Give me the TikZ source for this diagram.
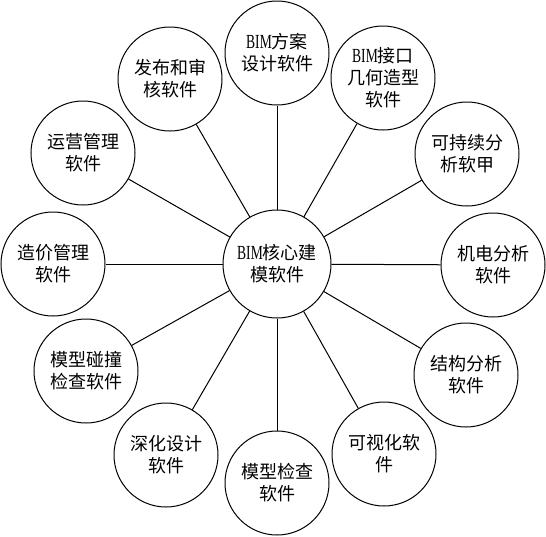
\documentclass[tikz,border=0pt]{standalone}
\usepackage{fontspec}
\setmainfont{Liberation Serif}
\newfontfamily\cjk{Noto Sans CJK SC}
\newfontfamily\latn[FakeStretch=0.68]{Liberation Serif}
\newcommand{\BIM}{{\latn\fontsize{20}{22}\selectfont BIM}}
\tikzset{
  hub/.style={circle, draw, line width=1pt, minimum size=108pt, inner sep=0pt,
    align=center, font=\cjk\fontsize{18}{22}\selectfont},
  leaf/.style={circle, draw, line width=1pt, minimum size=104pt, inner sep=0pt,
    align=center, font=\cjk\fontsize{18}{22}\selectfont},
  spoke/.style={line width=1pt}
}
\begin{document}
\begin{tikzpicture}[x=1pt, y=-1pt]
\useasboundingbox (0,0) rectangle (546,536);
\node[hub] (c) at (277,264) {\BIM 核心建\\模软件};
\node[leaf] (n1) at (277,53) {\BIM 方案\\设计软件};
\node[leaf] (n2) at (383,78) {\BIM 接口\\几何造型\\软件};
\node[leaf] (n3) at (467,154) {可持续分\\析软甲};
\node[leaf] (n4) at (493,265) {机电分析\\软件};
\node[leaf] (n5) at (466,375) {结构分析\\软件};
\node[leaf] (n6) at (384,454) {可视化软\\件};
\node[leaf] (n7) at (277,483) {模型检查\\软件};
\node[leaf] (n8) at (166,455) {深化设计\\软件};
\node[leaf] (n9) at (86,371) {模型碰撞\\检查软件};
\node[leaf] (n10) at (53,264) {造价管理\\软件};
\node[leaf] (n11) at (83,153) {运营管理\\软件};
\node[leaf] (n12) at (170,79) {发布和审\\核软件};
\foreach \n in {n1,n2,n3,n4,n5,n6,n7,n8,n9,n10,n11,n12}
  \draw[spoke] (c) -- (\n);
\end{tikzpicture}
\end{document}
